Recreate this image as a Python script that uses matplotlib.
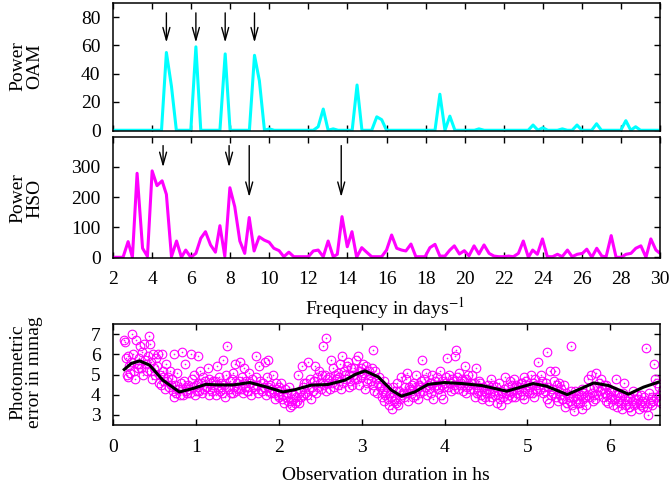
import numpy as np
import matplotlib
matplotlib.use("Agg")
import matplotlib.pyplot as plt

plt.rcParams['font.family'] = ['Liberation Serif', 'DejaVu Serif']
plt.rcParams['mathtext.fontset'] = 'stix'
plt.rcParams['font.size'] = 14

# OAM periodogram (vertices of the cyan curve)
oam_freq = [2.00, 4.48, 4.73, 4.99, 5.24, 5.98, 6.24, 6.49, 7.47, 7.74, 7.99,
            8.98, 9.24, 9.49, 9.75, 10.00, 10.25, 12.25, 12.50, 12.76, 13.01,
            13.27, 13.52, 14.24, 14.49, 14.74, 15.24, 15.50, 15.75, 16.00,
            18.48, 18.73, 18.99, 19.24, 19.50, 20.50, 20.73, 21.00, 23.25,
            23.50, 23.75, 24.00, 24.25, 24.75, 25.00, 25.25, 25.50, 25.75,
            26.00, 26.50, 26.75, 27.00, 27.99, 28.25, 28.50, 28.75, 29.00,
            29.25, 30.00]
oam_power = [0, 0, 55, 31, 0, 0, 59, 0, 0, 54, 0,
             0, 53, 35, 0, 1, 0, 0, 2.5, 15, 0,
             1, 0, 0, 32, 0, 0, 9.5, 7.5, 0,
             0, 25.5, 0, 10, 0, 0, 1, 0, 0,
             3.7, 0, 1.8, 0, 0, 1, 0, 0, 3.7,
             0, 0, 4.6, 0, 0, 6.8, 0, 2.5, 0,
             0, 0]

# HSO periodogram (vertices of the magenta curve)
hso_freq = [2.00, 2.51, 2.77, 2.99, 3.23, 3.51, 3.76, 4.00, 4.25, 4.51, 4.73,
            4.99, 5.25, 5.50, 5.72, 5.98, 6.24, 6.49, 6.73, 6.99, 7.24, 7.47,
            7.72, 7.98, 8.23, 8.49, 8.74, 8.97, 9.22, 9.48, 9.74, 9.99, 10.23,
            10.50, 10.74, 11.00, 11.25, 11.50, 11.75, 12.00, 12.25, 12.50,
            12.76, 13.01, 13.27, 13.48, 13.72, 13.99, 14.23, 14.47, 14.73,
            14.98, 15.24, 15.50, 15.75, 16.00, 16.26, 16.52, 16.77, 16.99,
            17.25, 17.50, 17.75, 17.97, 18.22, 18.48, 18.73, 18.99, 19.24,
            19.47, 19.73, 19.98, 20.22, 20.48, 20.73, 20.99, 21.25, 21.50,
            21.75, 21.98, 22.24, 22.49, 22.75, 23.00, 23.26, 23.48, 23.72,
            23.98, 24.23, 24.50, 24.75, 24.99, 25.26, 25.50, 25.76, 26.03,
            26.25, 26.51, 26.76, 27.02, 27.24, 27.50, 27.75, 28.01, 28.26,
            28.51, 28.76, 29.02, 29.28, 29.53, 29.79, 30.00]
hso_power = [0, 0, 52, 0, 279, 30, 3, 287, 238, 254, 209,
             2, 54, 0, 24, 0, 13, 63, 85, 41, 17, 105,
             3, 231, 168, 54, 13, 132, 21, 68, 57, 50, 30,
             22, 2, 17, 2, 2, 2, 2, 21, 24,
             2, 54, 2, 10, 135, 35, 85, 0, 32,
             17, 2, 2, 2, 24, 74, 30, 24, 21,
             44, 2, 2, 2, 32, 43, 4, 4, 24,
             38, 11, 22, 5, 38, 11, 41, 13, 4,
             2, 2, 4, 2, 13, 54, 0, 24, 10,
             61, 2, 2, 10, 2, 24, 2, 10, 13,
             27, 0, 30, 4, 2, 72, 0, 0, 10,
             13, 30, 38, 0, 61, 24, 13]

# marked frequencies: (freq, arrow start, arrow end)
oam_marks = [(4.73, 83, 62), (6.24, 83, 62), (7.74, 83, 62), (9.24, 83, 62)]
hso_marks = [(4.56, 371, 299), (7.94, 371, 299), (8.97, 371, 200), (13.68, 371, 200)]

# photometric error, one row per 0.1 h, taken at a regular cadence
phot_err = [
    6.7, 6.6, 5.8, 5.0, 5.9, 4.9, 5.4, 5.1, 5.6,
    7.0, 6.0, 5.2, 4.8, 6.7, 5.5, 5.3, 5.8, 5.5,
    6.4, 5.3, 6.1, 5.0, 6.5, 5.7, 5.5, 5.2, 5.9,
    6.9, 6.5, 5.2, 5.6, 4.8, 6.0, 5.3, 5.0, 5.8,
    5.4, 6.0, 4.6, 5.0, 4.5, 6.0, 4.9, 5.2, 4.7,
    4.3, 5.5, 4.7, 4.9, 4.4, 5.2, 4.5, 4.8, 4.2,
    6.0, 3.9, 4.5, 4.1, 5.1, 4.3, 4.3, 4.0, 4.6,
    6.1, 4.0, 4.7, 5.5, 4.2, 4.4, 4.1, 4.5, 4.3,
    4.1, 6.0, 4.8, 4.4, 5.0, 4.0, 4.5, 4.2, 4.6,
    5.9, 4.2, 5.2, 4.6, 4.1, 4.9, 4.3, 4.7, 4.4,
    4.4, 5.3, 4.0, 4.8, 4.3, 4.6, 4.2, 4.7, 4.5,
    4.7, 4.0, 5.4, 4.3, 4.9, 4.2, 4.6, 4.4, 4.1,
    5.7, 4.5, 3.9, 5.0, 6.4, 4.4, 4.3, 4.7, 4.1,
    4.8, 4.1, 5.1, 4.4, 5.5, 4.2, 4.6, 4.3, 4.7,
    5.6, 4.3, 4.9, 4.1, 5.3, 4.6, 4.4, 4.7, 4.2,
    4.2, 5.1, 4.6, 4.0, 4.8, 4.4, 4.5, 4.3, 4.9,
    5.9, 4.5, 4.1, 5.4, 4.7, 4.3, 4.2, 4.6, 4.4,
    5.6, 4.0, 4.9, 5.7, 4.4, 4.2, 4.5, 4.1, 4.3,
    5.0, 4.1, 3.8, 4.6, 4.3, 4.0, 4.4, 3.9, 4.2,
    4.6, 3.8, 4.0, 3.6, 4.3, 3.9, 4.1, 3.7, 4.4,
    3.4, 3.7, 4.1, 3.5, 3.8, 4.0, 3.6, 3.9, 3.7,
    5.0, 3.6, 4.2, 3.9, 5.4, 4.4, 4.0, 4.6, 4.1,
    4.6, 4.0, 5.6, 4.3, 4.8, 3.8, 4.4, 4.2, 4.7,
    4.7, 5.4, 4.1, 4.9, 4.4, 5.2, 4.6, 4.3, 5.0,
    6.4, 4.5, 5.0, 4.2, 6.8, 4.8, 4.6, 4.9, 4.3,
    5.7, 4.6, 5.3, 4.4, 5.0, 4.8, 4.8, 5.1, 4.5,
    4.9, 5.5, 4.3, 5.9, 4.6, 5.2, 5.0, 4.8, 5.4,
    5.6, 4.4, 5.0, 4.7, 5.3, 4.5, 5.0, 5.3, 4.8,
    5.7, 4.8, 5.9, 4.5, 5.2, 4.9, 5.3, 5.0, 5.5,
    5.1, 4.3, 5.4, 4.6, 4.8, 5.2, 5.0, 4.7, 5.3,
    6.2, 4.5, 4.2, 5.2, 4.8, 4.1, 4.6, 4.9, 4.4,
    4.5, 3.9, 4.2, 3.7, 4.7, 4.0, 4.1, 4.4, 3.8,
    3.5, 4.1, 3.9, 3.3, 4.4, 3.7, 3.8, 4.2, 3.6,
    4.6, 3.5, 4.2, 3.8, 4.9, 4.0, 4.1, 3.9, 4.4,
    4.8, 4.1, 5.1, 3.7, 4.4, 4.3, 4.2, 4.5, 3.9,
    4.6, 4.0, 5.0, 4.3, 3.8, 4.5, 4.4, 4.1, 4.7,
    5.7, 4.2, 4.8, 4.4, 5.1, 4.0, 4.5, 4.3, 4.6,
    4.6, 4.1, 5.0, 3.8, 4.4, 4.7, 4.5, 4.9, 4.3,
    4.3, 5.2, 4.0, 4.7, 4.5, 3.8, 4.4, 4.6, 4.9,
    5.8, 4.4, 5.0, 4.6, 4.2, 4.8, 4.7, 4.5, 4.3,
    5.9, 6.2, 4.9, 4.3, 5.1, 4.5, 4.6, 4.8, 4.2,
    4.7, 5.4, 4.1, 4.8, 4.4, 5.0, 4.5, 4.3, 4.6,
    5.0, 4.3, 4.6, 3.9, 5.3, 4.1, 4.4, 4.2, 4.7,
    4.6, 4.0, 3.8, 4.4, 4.2, 3.9, 4.1, 4.3, 4.5,
    4.3, 3.7, 4.1, 4.8, 3.9, 4.5, 4.2, 4.0, 4.4,
    3.6, 4.0, 4.6, 3.8, 4.2, 3.5, 4.1, 3.9, 4.3,
    4.9, 4.1, 3.8, 4.4, 4.0, 4.7, 4.2, 4.5, 3.9,
    4.2, 4.8, 3.9, 4.5, 4.1, 4.4, 4.3, 4.0, 4.6,
    4.6, 4.0, 4.9, 3.8, 4.3, 4.7, 4.2, 4.5, 4.1,
    4.4, 5.0, 4.1, 4.6, 3.9, 4.8, 4.3, 4.5, 4.2,
    5.6, 4.5, 4.3, 5.0, 4.7, 4.1, 4.4, 4.2, 4.6,
    6.1, 3.8, 4.4, 3.6, 5.2, 4.0, 4.3, 4.1, 4.7,
    5.2, 3.9, 4.5, 3.7, 4.2, 4.6, 4.0, 4.3, 3.8,
    3.8, 4.5, 3.4, 4.1, 3.6, 4.0, 3.9, 3.7, 4.2,
    6.4, 3.5, 3.9, 3.2, 4.2, 3.7, 3.8, 3.6, 4.0,
    3.6, 4.0, 3.3, 4.3, 3.8, 4.1, 3.9, 3.5, 4.0,
    4.8, 3.9, 4.3, 5.0, 4.1, 3.7, 4.0, 4.4, 3.8,
    5.1, 4.4, 4.0, 4.6, 4.2, 4.8, 4.3, 3.9, 4.5,
    4.1, 3.7, 4.5, 4.0, 3.6, 4.3, 3.9, 4.2, 3.8,
    3.5, 4.2, 3.8, 4.8, 3.4, 4.0, 3.7, 4.1, 3.9,
    3.6, 3.3, 4.1, 4.6, 3.8, 3.5, 3.7, 3.9, 3.4,
    3.4, 3.9, 3.2, 3.7, 4.2, 3.5, 3.8, 3.6, 4.0,
    3.8, 3.3, 3.6, 4.0, 3.5, 3.7, 3.4, 3.9, 3.6,
    6.3, 3.4, 3.0, 4.1, 3.6, 3.8, 3.5, 3.9, 3.7,
    5.5, 4.8, 3.9, 4.6, 3.7, 4.4, 4.0, 3.6, 4.2,
]
obs_start, obs_end = 0.13, 6.62

# smoothed trend (black curve)
trend_t = [0.135, 0.22, 0.32, 0.44, 0.60, 0.80, 0.96, 1.12, 1.28, 1.45, 1.65,
           1.85, 2.05, 2.20, 2.39, 2.59, 2.80, 2.92, 3.04, 3.20, 3.36, 3.48,
           3.64, 3.80, 4.00, 4.21, 4.45, 4.75, 5.07, 5.23, 5.48, 5.80, 5.98,
           6.22, 6.40, 6.58]
trend_v = [5.25, 5.55, 5.68, 5.47, 4.72, 4.13, 4.30, 4.51, 4.48, 4.48, 4.60,
           4.38, 4.13, 4.25, 4.47, 4.50, 4.72, 5.00, 5.18, 4.88, 4.22, 3.92,
           4.13, 4.51, 4.60, 4.55, 4.45, 4.17, 4.55, 4.42, 4.00, 4.58, 4.45,
           4.02, 4.37, 4.62]


def style_axes(ax):
    for s in ax.spines.values():
        s.set_linewidth(1.1)
    ax.tick_params(direction='in', top=True, right=True, length=4, width=1,
                   pad=9)


def mark(ax, marks):
    for f, y0, y1 in marks:
        ax.annotate('', xy=(f, y1), xytext=(f, y0),
                    arrowprops=dict(arrowstyle='->,head_length=0.9,head_width=0.25',
                                    color='black', lw=1, mutation_scale=10,
                                    shrinkA=0, shrinkB=0))


def main():
    fig = plt.figure(figsize=(6.69, 4.88), dpi=100)

    ax1 = fig.add_axes([0.169, 0.7316, 0.8176, 0.2623])
    ax2 = fig.add_axes([0.169, 0.4703, 0.8176, 0.2480])
    ax3 = fig.add_axes([0.169, 0.1297, 0.8176, 0.2057])

    ax1.plot(oam_freq, oam_power, color='#00ffff', lw=2.2)
    mark(ax1, oam_marks)
    ax1.set_xlim(2, 30)
    ax1.set_ylim(-0.5, 90)
    ax1.set_xticks(range(2, 31, 2))
    ax1.set_xticklabels([])
    ax1.set_yticks([0, 20, 40, 60, 80])
    style_axes(ax1)

    ax2.plot(hso_freq, hso_power, color='#ff00ff', lw=2.2)
    mark(ax2, hso_marks)
    ax2.set_xlim(2, 30)
    ax2.set_ylim(-4, 398)
    ax2.set_xticks(range(2, 31, 2))
    ax2.set_yticks([0, 100, 200, 300])
    style_axes(ax2)

    t = np.linspace(obs_start, obs_end, len(phot_err))
    ax3.plot(t, phot_err, ls='none', marker='o', ms=6.2, mfc='none',
             mec='#ff00ff', mew=0.8)
    ax3.plot(t, phot_err, ls='none', marker='o', ms=1.2, mfc='#ff00ff',
             mec='#ff00ff', mew=0)
    ax3.plot(trend_t, trend_v, color='black', lw=2.2)
    ax3.set_xlim(0, 6.6)
    ax3.set_ylim(2.5, 7.5)
    ax3.set_xticks(range(0, 7))
    ax3.set_yticks(range(3, 8))
    style_axes(ax3)
    ax3.tick_params(axis='x', pad=10)

    fig.text(0.575, 1 - 315 / 488, r'Frequency in days$^{-1}$',
             ha='center', va='baseline')
    fig.text(0.577, 1 - 480 / 488, 'Observation duration in hs',
             ha='center', va='baseline')

    lab = dict(rotation=90, ha='center', va='center', multialignment='center',
               linespacing=1.0)
    fig.text(26 / 669, 1 - 66 / 488, 'Power\nOAM', **lab)
    fig.text(26 / 669, 1 - 198 / 488, 'Power\nHSO', **lab)
    fig.text(26 / 669, 1 - 372 / 488, 'Photometric\nerror in mmag', **lab)

    fig.savefig('out.png', dpi=100)


if __name__ == '__main__':
    main()
